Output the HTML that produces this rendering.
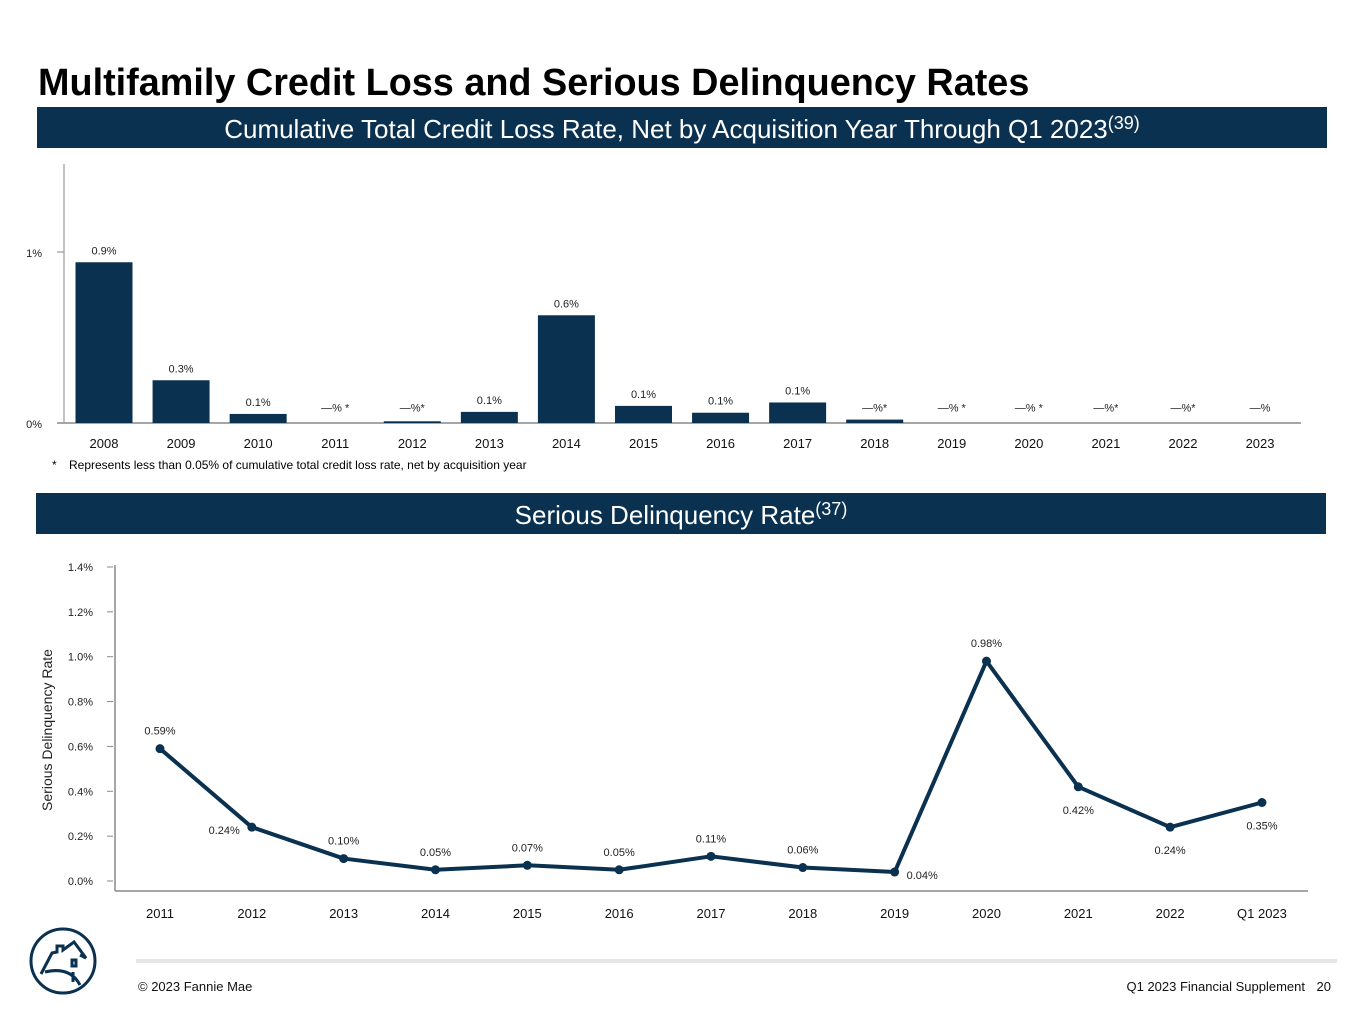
<!DOCTYPE html>
<html><head><meta charset="utf-8"><style>
body{margin:0;width:1365px;height:1024px;background:#fff;font-family:"Liberation Sans",Arial,sans-serif;overflow:hidden;position:relative}
.abs{position:absolute}
.banner{position:absolute;background:#0a3150;color:#fff;text-align:center;font-size:26px}
.banner sup{font-size:18px;vertical-align:9px;line-height:0}
</style></head><body>
<div class="abs" style="left:38px;top:62px;font-size:37.8px;font-weight:bold;color:#000;white-space:nowrap">Multifamily Credit Loss and Serious Delinquency Rates</div>
<div class="banner" style="left:37px;top:107px;width:1290px;height:41px;line-height:44px">Cumulative Total Credit Loss Rate, Net by Acquisition Year Through Q1 2023<sup>(39)</sup></div>
<div class="banner" style="left:36px;top:493px;width:1290px;height:41px;line-height:44px">Serious Delinquency Rate<sup>(37)</sup></div>
<svg class="abs" style="left:0;top:0" width="1365" height="1024" id="svg">
<text x="52" y="469" font-size="12" fill="#000">*</text>
<text x="69" y="469" font-size="12" fill="#000">Represents less than 0.05% of cumulative total credit loss rate, net by acquisition year</text>
<text transform="translate(52,730) rotate(-90)" text-anchor="middle" font-size="14" fill="#222">Serious Delinquency Rate</text>
<line x1="136" y1="961" x2="1337" y2="961" stroke="#e6e6e6" stroke-width="4"/>
<text x="138" y="991" font-size="13" fill="#111">© 2023 Fannie Mae</text>
<text x="1305" y="991" font-size="13" fill="#111" text-anchor="end">Q1 2023 Financial Supplement</text>
<text x="1331" y="991" font-size="13" fill="#111" text-anchor="end">20</text>
<g fill="none" stroke="#0a3150" stroke-width="3">
<circle cx="63" cy="961" r="32"/>
<path d="M41 974 L52 953 L57 952 L57 946 L63 946 L63 950 L74 942 L86 958 L80 955 M45 972 Q70 966 80 985 M72 960 v6 h4 v-6z M73 972 v10"/>
</g>
</svg>
<script>
var svg=document.getElementById('svg');
var NS='http://www.w3.org/2000/svg';
function mk(t,a,txt){var e=document.createElementNS(NS,t);for(var k in a)e.setAttribute(k,a[k]);if(txt!=null)e.textContent=txt;svg.appendChild(e);return e;}
// Bar chart data
var barYears=['2008','2009','2010','2011','2012','2013','2014','2015','2016','2017','2018','2019','2020','2021','2022','2023'];
var barValues=[0.94,0.25,0.053,0,0.01,0.065,0.63,0.1,0.06,0.12,0.02,0,0,0,0,0];
var barLabels=['0.9%','0.3%','0.1%','—% *','—%*','0.1%','0.6%','0.1%','0.1%','0.1%','—%*','—% *','—% *','—%*','—%*','—%'];
var barTicks=[0,1];
var barTickLabels=['0%','1%'];
// Line chart data
var lineCats=['2011','2012','2013','2014','2015','2016','2017','2018','2019','2020','2021','2022','Q1 2023'];
var lineValues=[0.59,0.24,0.10,0.05,0.07,0.05,0.11,0.06,0.04,0.98,0.42,0.24,0.35];
var lineLabels=['0.59%','0.24%','0.10%','0.05%','0.07%','0.05%','0.11%','0.06%','0.04%','0.98%','0.42%','0.24%','0.35%'];
var lineLabelPos=['above','left','above','above','above','above','above','above','belowright','above','below','below','below'];
var lineTicks=[0,0.2,0.4,0.6,0.8,1.0,1.2,1.4];
var lineTickLabels=['0.0%','0.2%','0.4%','0.6%','0.8%','1.0%','1.2%','1.4%'];

function bx(i){return 104+i*77.07;}
function by(v){return 423-v*171;}
var e;
e=mk('line',{x1:64,y1:164,x2:64,y2:423,stroke:'#888','stroke-width':1});


e=mk('line',{x1:57,y1:423,x2:1301,y2:423,stroke:'#888','stroke-width':1.5});


barTicks.forEach(function(t,i){
 e=mk('line',{x1:57,y1:by(t),x2:64,y2:by(t),stroke:'#888'});
 
 
 e=mk('text',{x:42,y:by(t)+5,'font-size':11,'text-anchor':'end',fill:'#222'},barTickLabels[i]);
 
 
});
barYears.forEach(function(y,i){
 var x=bx(i),v=barValues[i];
 if(v>0){e=mk('rect',{x:x-28.5,y:by(v),width:57,height:423-by(v),fill:'#0a3150'});
 
 }
 e=mk('text',{x:x,y:Math.min(by(v),by(0.02))-8,'font-size':11,'text-anchor':'middle',fill:'#222'},barLabels[i]);
 
 
 e=mk('text',{x:x,y:448,'font-size':13,'text-anchor':'middle',fill:'#111'},y);
 
 
});

function lx(i){return 160+i*91.83;}
function ly(v){return 881-v*224.3;}
e=mk('line',{x1:115,y1:565,x2:115,y2:891,stroke:'#888','stroke-width':1.5});


e=mk('line',{x1:115,y1:891,x2:1308,y2:891,stroke:'#888','stroke-width':1.5});


lineTicks.forEach(function(t,i){
 e=mk('line',{x1:107,y1:ly(t),x2:113,y2:ly(t),stroke:'#888'});
 
 
 e=mk('text',{x:93,y:ly(t)+4,'font-size':11,'text-anchor':'end',fill:'#222'},lineTickLabels[i]);
 
 
});
var pts=lineValues.map(function(v,i){return lx(i)+','+ly(v);}).join(' ');
e=mk('polyline',{points:pts,fill:'none',stroke:'#0a3150','stroke-width':4,'stroke-linejoin':'round'});


lineCats.forEach(function(c,i){
 var x=lx(i),y=ly(lineValues[i]);
 e=mk('circle',{cx:x,cy:y,r:4.5,fill:'#0a3150'});
 
 
 var p=lineLabelPos[i],tx=x,ty=y-14,anc='middle';
 if(p=='left'){tx=x-12;ty=y+7;anc='end';}
 if(p=='below'){ty=y+27;}
 if(p=='belowright'){tx=x+12;ty=y+7;anc='start';}
 e=mk('text',{x:tx,y:ty,'font-size':11,'text-anchor':anc,fill:'#222'},lineLabels[i]);
 
 
 e=mk('text',{x:x,y:918,'font-size':13,'text-anchor':'middle',fill:'#111'},c);
 
 
});
</script>
</body></html>
